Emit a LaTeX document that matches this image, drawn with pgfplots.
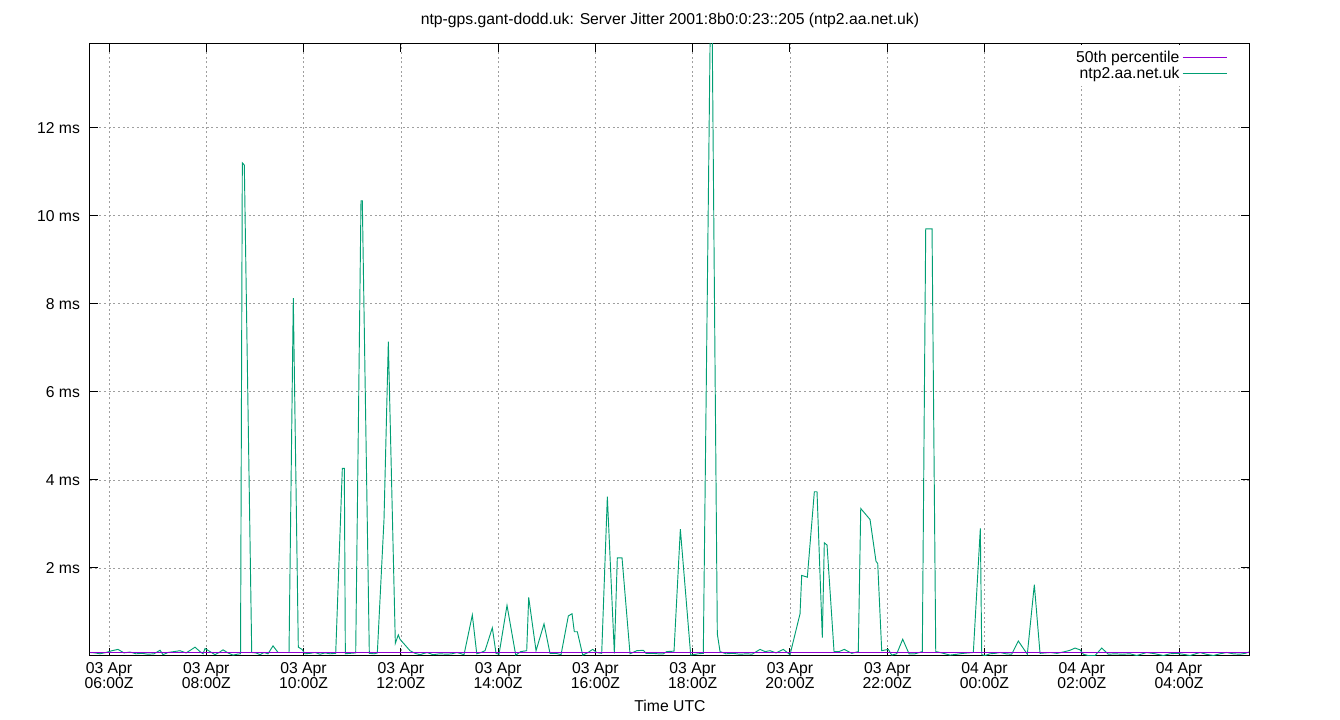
\documentclass[border=0pt]{standalone}
\usepackage{pgfplots}
\pgfplotsset{compat=1.18}
\usepackage{pgfplotstable}
\usepackage{fontspec}
\setmainfont{Liberation Sans}

\definecolor{jitgreen}{HTML}{009E73}
\definecolor{pctpurple}{HTML}{9400D3}
\newcommand\gpfont{\fontsize{11.8}{11.2}\selectfont}

% hours since 03 Apr 00:00Z, server jitter in ms
\pgfplotstableread{
h ms
5.609 0.08
5.712 0.07
5.815 0.05
5.938 0.08
6.062 0.12
6.185 0.15
6.308 0.07
6.432 0.09
6.555 0.05
6.679 0.06
6.802 0.04
6.925 0.05
7.049 0.13
7.110 0.03
7.213 0.08
7.336 0.10
7.460 0.12
7.583 0.07
7.686 0.14
7.768 0.20
7.871 0.10
7.933 0.05
7.974 0.17
8.077 0.10
8.179 0.03
8.262 0.08
8.344 0.14
8.447 0.07
8.550 0.02
8.632 0.04
8.704 0.05
8.741 11.20
8.782 11.15
8.934 0.08
9.022 0.07
9.105 0.03
9.187 0.08
9.269 0.05
9.372 0.23
9.475 0.08
9.598 0.08
9.701 0.08
9.789 8.13
9.892 0.20
9.968 0.15
10.030 0.05
10.133 0.06
10.236 0.08
10.338 0.04
10.441 0.07
10.544 0.05
10.661 0.06
10.797 4.26
10.838 4.26
10.859 0.05
10.955 0.06
11.072 0.07
11.181 10.34
11.208 10.34
11.352 0.06
11.449 0.05
11.517 0.07
11.654 3.10
11.743 7.14
11.887 0.29
11.948 0.48
11.983 0.38
12.086 0.25
12.189 0.12
12.292 0.06
12.394 0.03
12.538 0.08
12.662 0.03
12.806 0.05
12.950 0.04
13.052 0.05
13.155 0.08
13.299 0.03
13.470 0.93
13.561 0.05
13.649 0.08
13.731 0.12
13.881 0.64
13.957 0.06
14.019 0.04
14.183 1.15
14.362 0.02
14.465 0.10
14.588 0.12
14.629 1.33
14.780 0.12
14.944 0.73
15.067 0.06
15.191 0.06
15.294 0.03
15.444 0.91
15.520 0.96
15.567 0.55
15.629 0.55
15.740 0.02
15.849 0.08
15.945 0.15
16.028 0.08
16.130 0.06
16.246 3.62
16.390 0.06
16.451 2.23
16.548 2.23
16.712 0.05
16.850 0.12
16.986 0.13
17.041 0.06
17.165 0.06
17.288 0.05
17.397 0.05
17.467 0.10
17.617 0.11
17.747 2.88
17.960 0.02
18.117 0.05
18.219 0.06
18.384 16.50
18.507 0.50
18.563 0.10
18.686 0.05
18.830 0.06
18.974 0.04
19.118 0.05
19.221 0.04
19.385 0.15
19.488 0.10
19.591 0.12
19.714 0.07
19.864 0.15
20.002 0.03
20.208 0.96
20.242 1.83
20.358 1.79
20.502 3.73
20.557 3.73
20.666 0.42
20.707 2.57
20.763 2.52
20.907 0.10
21.010 0.10
21.118 0.15
21.271 0.06
21.406 0.10
21.456 3.35
21.647 3.10
21.770 2.15
21.805 2.10
21.887 0.12
22.023 0.15
22.093 0.02
22.196 0.05
22.319 0.38
22.449 0.05
22.572 0.05
22.722 0.10
22.792 9.70
22.922 9.70
22.998 0.10
23.086 0.08
23.189 0.05
23.292 0.02
23.436 0.04
23.565 0.06
23.662 0.07
23.771 0.08
23.915 2.90
23.944 0.03
24.011 0.01
24.114 0.05
24.217 0.06
24.320 0.08
24.443 0.05
24.560 0.04
24.696 0.34
24.881 0.04
25.025 1.62
25.142 0.06
25.245 0.07
25.348 0.08
25.492 0.06
25.656 0.10
25.759 0.13
25.862 0.18
25.965 0.14
26.033 0.04
26.129 0.01
26.273 0.01
26.411 0.18
26.547 0.04
26.684 0.05
26.828 0.04
26.993 0.05
27.130 0.01
27.336 0.08
27.507 0.05
27.677 0.01
27.815 0.05
27.953 0.06
28.083 0.04
28.226 0.01
28.432 0.08
28.555 0.04
28.705 0.01
28.843 0.05
28.981 0.08
29.110 0.05
29.254 0.04
29.357 0.06
29.439 0.09
}\jitter

\begin{document}
\begin{tikzpicture}
\useasboundingbox (0,0) rectangle (1005pt,540pt);
\begin{axis}[
    at={(67.5pt,48pt)}, anchor=south west,
    scale only axis,
    width=869.25pt, height=459pt,
    xmin=5.609, xmax=29.439,
    ymin=0, ymax=13.9,
    axis line style={black, line width=0.75pt},
    tick style={black, line width=0.75pt},
    major tick length=6pt,
    tick align=inside,
    tick pos=both,
    xtick={6,8,...,28},
    xticklabels={03 Apr\\06:00Z,03 Apr\\08:00Z,03 Apr\\10:00Z,03 Apr\\12:00Z,
                 03 Apr\\14:00Z,03 Apr\\16:00Z,03 Apr\\18:00Z,03 Apr\\20:00Z,
                 03 Apr\\22:00Z,04 Apr\\00:00Z,04 Apr\\02:00Z,04 Apr\\04:00Z},
    xticklabel style={align=center, font=\gpfont, yshift=-1.5pt},
    ytick={2,4,...,12},
    yticklabels={2 ms,4 ms,6 ms,8 ms,10 ms,12 ms},
    yticklabel style={font=\gpfont, xshift=-4pt},
    grid=major,
    major grid style={gray!75, line width=0.5pt, dash pattern=on 1.5pt off 2pt},
    legend plot pos=right,
    legend cell align=right,
    legend image code/.code={\draw[#1] (3pt,0pt) -- (36pt,0pt);},
    legend style={at={(1,1)}, anchor=north east, xshift=-13pt, yshift=-1pt,
                  fill=white, draw=white, font=\gpfont, row sep=-2pt},
]
\addlegendimage{draw=pctpurple, line width=1pt}
\addlegendentry{50th percentile}
\addlegendimage{draw=jitgreen, line width=1pt}
\addlegendentry{ntp2.aa.net.uk}
\addplot[jitgreen, line width=0.7pt, forget plot] table[x=h, y=ms] {\jitter};
\addplot[pctpurple, line width=0.75pt, forget plot] coordinates {(5.609,0.07) (29.439,0.07)};
\end{axis}
\node[font=\gpfont] at (502.5pt,525pt)
  {ntp-gps.gant-dodd.uk: Server Jitter 2001:8b0:0:23::205 (ntp2.aa.net.uk)};
\node[font=\gpfont] at (502.5pt,10.5pt) {Time UTC};
\end{tikzpicture}
\end{document}
